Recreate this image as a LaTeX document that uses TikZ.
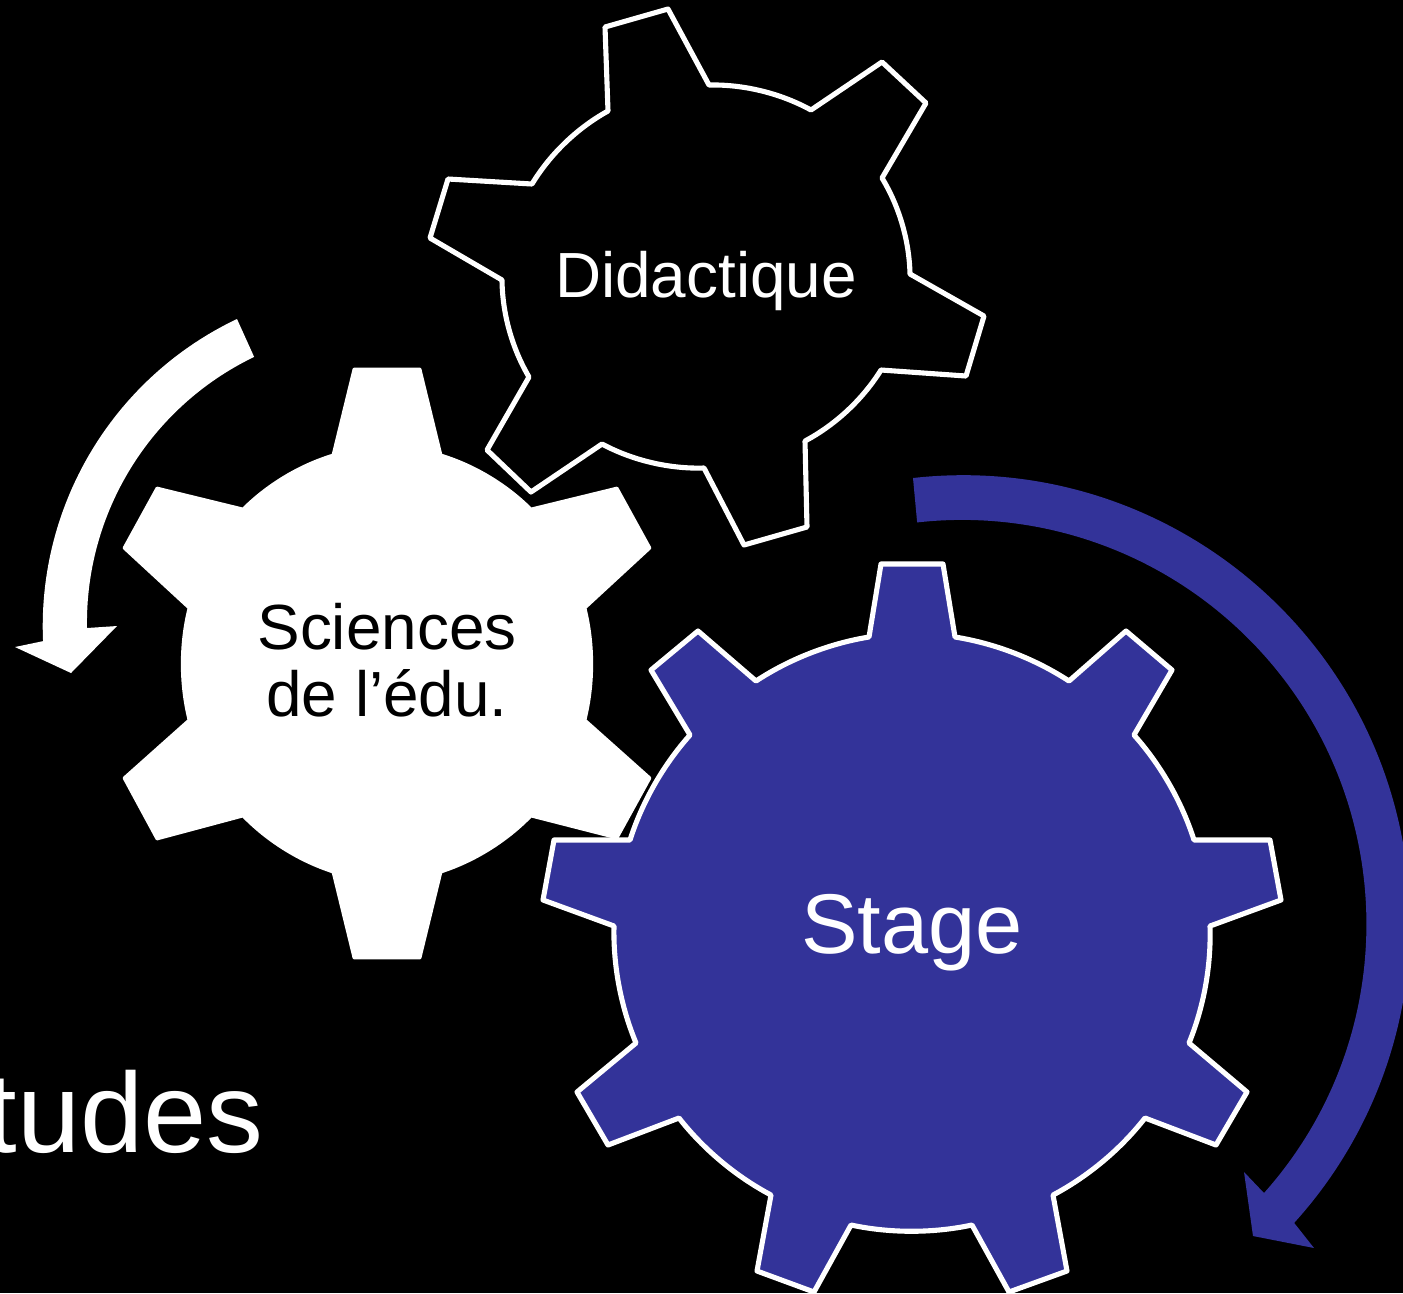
\documentclass[tikz,border=0pt]{standalone}
\usepackage{fontspec}
\setmainfont{Liberation Sans}
\definecolor{stageblue}{HTML}{333399}
\tikzset{
  gear/.style={line width=1.45pt,line join=round,draw=white},
  gearlabel/.style={inner sep=0pt,align=center,font=\fontsize{18.15}{18.8}\selectfont},
  rim/.style={bend left=#1,looseness=0.85}
}
\begin{document}
\begin{tikzpicture}[x=0.01cm,y=-0.01cm]
\useasboundingbox (0,0) rectangle (1403,1293);
\clip (0,0) rectangle (1403,1293);
\fill [black] (0,0) rectangle (1403,1293);
\draw [gear,fill=black] (608,111) -- (605,27) -- (668,9) -- (709,85) to[rim=15] (811,110) -- (882,62) -- (926,103) -- (882,178) to[rim=15] (910,274) -- (984,316) -- (966,376) -- (881,370) to[rim=15] (805,441) -- (807,527) -- (744,545) -- (704,468) to[rim=15] (602,444) -- (531,492) -- (487,450) -- (529,377) to[rim=15] (502,280) -- (430,238) -- (448,179) -- (532,184) to[rim=15] cycle;
\draw [gear,line width=0.8pt,fill=white] (333,455) -- (354,369) -- (420,369) -- (441,455) to[rim=14] (531,509) -- (617,488) -- (650,548) -- (585,608) to[rim=14] (585,720) -- (650,778) -- (617,838) -- (531,816) to[rim=14] (441,872) -- (420,958) -- (354,958) -- (333,872) to[rim=14] (243,816) -- (157,839) -- (124,778) -- (189,720) to[rim=14] (189,608) -- (124,548) -- (157,488) -- (243,509) to[rim=14] cycle;
\draw [gear,fill=stageblue] (869,637) -- (881,564) -- (943,564) -- (955,637) to[rim=12] (1069,681) -- (1126,631) -- (1172,670) -- (1134,735) to[rim=12] (1194,840) -- (1270,840) -- (1281,900) -- (1210,926) to[rim=12] (1189,1043) -- (1247,1092) -- (1216,1145) -- (1145,1118) to[rim=12] (1053,1195) -- (1067,1271) -- (1009,1292) -- (972,1225) to[rim=12] (851,1225) -- (814,1292) -- (757,1271) -- (771,1195) to[rim=12] (679,1118) -- (608,1145) -- (577,1092) -- (636,1043) to[rim=12] (614,926) -- (543,900) -- (554,840) -- (630,840) to[rim=12] (690,735) -- (651,670) -- (698,631) -- (756,681) to[rim=12] cycle;
\fill [stageblue] (913,478) arc[start angle=96.4,end angle=-42.2,radius=4.47cm] -- (1314,1248) -- (1253,1236) -- (1244,1172) -- (1264,1193) arc[start angle=-41.7,end angle=96.4,radius=4.04cm] -- cycle;
\fill [white] (237,319) arc[start angle=115.4,end angle=182.5,radius=3.40cm] -- (15,647) -- (71,673) -- (117,626) -- (87,628) arc[start angle=181,end angle=115.7,radius=2.95cm] -- cycle;
\node (didactique) at (706,297) [gearlabel,anchor=base,text=white] {Didactique};
\node (sciences) at (387,716) [gearlabel,anchor=base,text=black] {Sciences\\de l’édu.};
\node (stage) at (912,953) [gearlabel,anchor=base,text=white,font=\fontsize{24.1}{28}\selectfont] {Stage};
\node (etudes) at (264,1152) [anchor=base east,inner sep=0pt,text=white,font=\fontsize{32.3}{38}\selectfont] {tudes};
\end{tikzpicture}
\end{document}
